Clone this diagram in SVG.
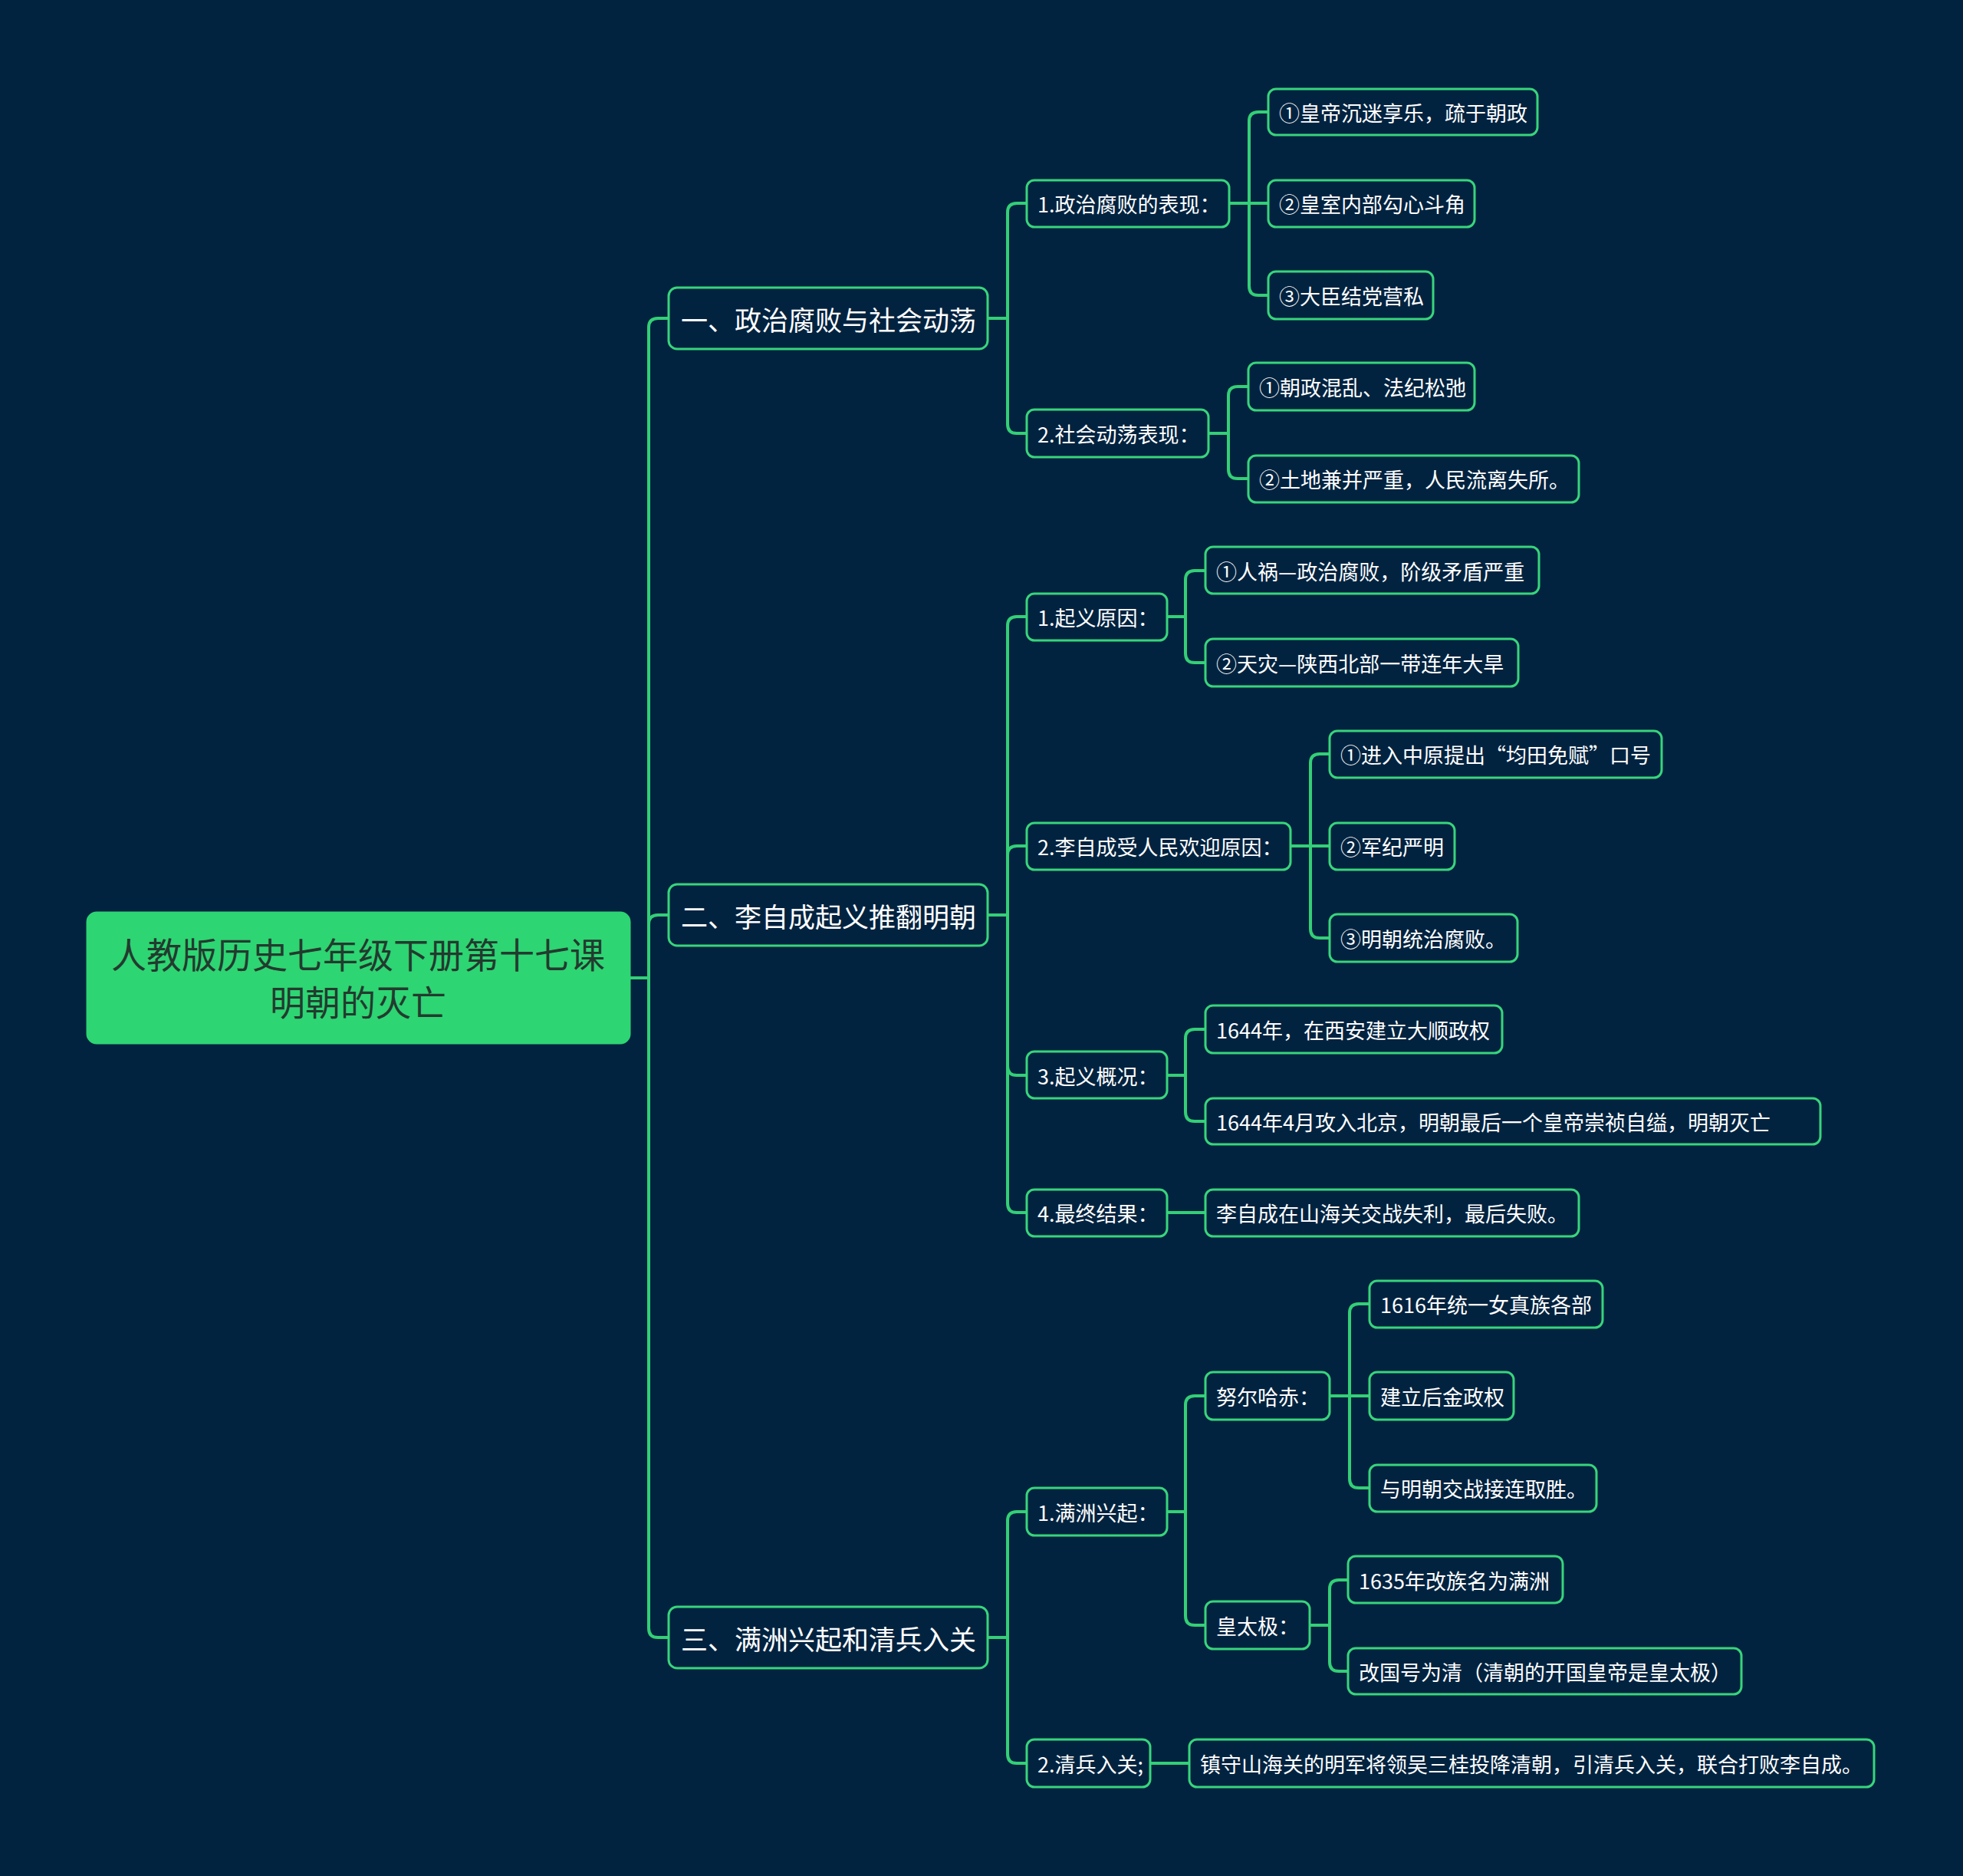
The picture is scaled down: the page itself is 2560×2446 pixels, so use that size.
<svg xmlns="http://www.w3.org/2000/svg" width="2560" height="2446" viewBox="0 0 2560 2446">
<style>
.bg{fill:#022340}
.c{fill:none;stroke:#34cf76;stroke-width:4;stroke-linecap:round}
.n rect{fill:#022340;stroke:#38d57b;stroke-width:3}
.n text{fill:#ffffff;font-family:"Noto Sans CJK SC","Noto Sans",sans-serif;font-size:27px;dominant-baseline:central}
.l1 text{font-size:35px}
.root rect{fill:#2ed573;stroke:#2ed573}
.root text{fill:#233a2e;font-size:46px;text-anchor:middle}
</style>
<rect class="bg" x="0" y="0" width="2560" height="2446"/>
<g id="connectors">
<path class="c" d="M821 1275 H846 V427 Q846 415 858 415 H872"/>
<path class="c" d="M821 1275 H846 V1205 Q846 1193 858 1193 H872"/>
<path class="c" d="M821 1275 H846 V2123 Q846 2135 858 2135 H872"/>
<path class="c" d="M1288 415 H1314 V277 Q1314 265 1326 265 H1339"/>
<path class="c" d="M1288 415 H1314 V553 Q1314 565 1326 565 H1339"/>
<path class="c" d="M1288 1193 H1314 V816 Q1314 804 1326 804 H1339"/>
<path class="c" d="M1288 1193 H1314 V1115 Q1314 1103 1326 1103 H1339"/>
<path class="c" d="M1288 1193 H1314 V1390 Q1314 1402 1326 1402 H1339"/>
<path class="c" d="M1288 1193 H1314 V1569 Q1314 1581 1326 1581 H1339"/>
<path class="c" d="M1288 2135 H1314 V1983 Q1314 1971 1326 1971 H1339"/>
<path class="c" d="M1288 2135 H1314 V2287 Q1314 2299 1326 2299 H1339"/>
<path class="c" d="M1603 265 H1629 V158 Q1629 146 1641 146 H1654"/>
<path class="c" d="M1603 265 H1654"/>
<path class="c" d="M1603 265 H1629 V373 Q1629 385 1641 385 H1654"/>
<path class="c" d="M1576 565 H1602 V516 Q1602 504 1614 504 H1628"/>
<path class="c" d="M1576 565 H1602 V612 Q1602 624 1614 624 H1628"/>
<path class="c" d="M1522 804 H1546 V756 Q1546 744 1558 744 H1572"/>
<path class="c" d="M1522 804 H1546 V852 Q1546 864 1558 864 H1572"/>
<path class="c" d="M1683 1103 H1709 V995 Q1709 983 1721 983 H1734"/>
<path class="c" d="M1683 1103 H1734"/>
<path class="c" d="M1683 1103 H1709 V1211 Q1709 1223 1721 1223 H1734"/>
<path class="c" d="M1522 1402 H1546 V1354 Q1546 1342 1558 1342 H1572"/>
<path class="c" d="M1522 1402 H1546 V1450 Q1546 1462 1558 1462 H1572"/>
<path class="c" d="M1522 1581 H1572"/>
<path class="c" d="M1522 1971 H1546 V1832 Q1546 1820 1558 1820 H1572"/>
<path class="c" d="M1522 1971 H1546 V2107 Q1546 2119 1558 2119 H1572"/>
<path class="c" d="M1734 1820 H1760 V1712 Q1760 1700 1772 1700 H1786"/>
<path class="c" d="M1734 1820 H1786"/>
<path class="c" d="M1734 1820 H1760 V1928 Q1760 1940 1772 1940 H1786"/>
<path class="c" d="M1708 2119 H1734 V2072 Q1734 2060 1746 2060 H1758"/>
<path class="c" d="M1708 2119 H1734 V2167 Q1734 2179 1746 2179 H1758"/>
<path class="c" d="M1500 2299 H1551"/>
</g>
<g id="root" class="n root"><rect x="114" y="1190" width="707" height="170" rx="12"/><text x="467" y="1242">人教版历史七年级下册第十七课</text><text x="467" y="1304">明朝的灭亡</text></g>
<g id="n1" class="n l1"><rect x="872" y="375" width="416" height="80" rx="11"/><text x="888" y="415">一、政治腐败与社会动荡</text></g>
<g id="n2" class="n l1"><rect x="872" y="1153" width="416" height="80" rx="11"/><text x="888" y="1193">二、李自成起义推翻明朝</text></g>
<g id="n3" class="n l1"><rect x="872" y="2095" width="416" height="80" rx="11"/><text x="888" y="2135">三、满洲兴起和清兵入关</text></g>
<g id="n1_1" class="n"><rect x="1339" y="235" width="264" height="61" rx="10"/><text x="1353" y="265">1.政治腐败的表现：</text></g>
<g id="n1_2" class="n"><rect x="1339" y="534" width="237" height="62" rx="10"/><text x="1353" y="565">2.社会动荡表现：</text></g>
<g id="n2_1" class="n"><rect x="1339" y="774" width="183" height="61" rx="10"/><text x="1353" y="804">1.起义原因：</text></g>
<g id="n2_2" class="n"><rect x="1339" y="1073" width="344" height="61" rx="10"/><text x="1353" y="1103">2.李自成受人民欢迎原因：</text></g>
<g id="n2_3" class="n"><rect x="1339" y="1371" width="183" height="61" rx="10"/><text x="1353" y="1402">3.起义概况：</text></g>
<g id="n2_4" class="n"><rect x="1339" y="1551" width="183" height="61" rx="10"/><text x="1353" y="1581">4.最终结果：</text></g>
<g id="n3_1" class="n"><rect x="1339" y="1940" width="183" height="62" rx="10"/><text x="1353" y="1971">1.满洲兴起：</text></g>
<g id="n3_2" class="n"><rect x="1339" y="2268" width="161" height="62" rx="10"/><text x="1353" y="2299">2.清兵入关;</text></g>
<g id="n1_1_1" class="n"><rect x="1654" y="116" width="351" height="60" rx="10"/><text x="1668" y="146">①皇帝沉迷享乐，疏于朝政</text></g>
<g id="n1_1_2" class="n"><rect x="1654" y="235" width="269" height="61" rx="10"/><text x="1668" y="265">②皇室内部勾心斗角</text></g>
<g id="n1_1_3" class="n"><rect x="1654" y="354" width="215" height="62" rx="10"/><text x="1668" y="385">③大臣结党营私</text></g>
<g id="n1_2_1" class="n"><rect x="1628" y="473" width="295" height="62" rx="10"/><text x="1642" y="504">①朝政混乱、法纪松弛</text></g>
<g id="n1_2_2" class="n"><rect x="1628" y="594" width="431" height="61" rx="10"/><text x="1642" y="624">②土地兼并严重，人民流离失所。</text></g>
<g id="n2_1_1" class="n"><rect x="1572" y="713" width="435" height="61" rx="10"/><text x="1586" y="744">①人祸—政治腐败，阶级矛盾严重</text></g>
<g id="n2_1_2" class="n"><rect x="1572" y="833" width="408" height="62" rx="10"/><text x="1586" y="864">②天灾—陕西北部一带连年大旱</text></g>
<g id="n2_2_1" class="n"><rect x="1734" y="953" width="433" height="61" rx="10"/><text x="1748" y="983">①进入中原提出“均田免赋”口号</text></g>
<g id="n2_2_2" class="n"><rect x="1734" y="1073" width="163" height="61" rx="10"/><text x="1748" y="1103">②军纪严明</text></g>
<g id="n2_2_3" class="n"><rect x="1734" y="1192" width="245" height="62" rx="10"/><text x="1748" y="1223">③明朝统治腐败。</text></g>
<g id="n2_3_1" class="n"><rect x="1572" y="1311" width="387" height="62" rx="10"/><text x="1586" y="1342">1644年，在西安建立大顺政权</text></g>
<g id="n2_3_2" class="n"><rect x="1572" y="1432" width="802" height="60" rx="10"/><text x="1586" y="1462">1644年4月攻入北京，明朝最后一个皇帝崇祯自缢，明朝灭亡</text></g>
<g id="n2_4_1" class="n"><rect x="1572" y="1551" width="487" height="61" rx="10"/><text x="1586" y="1581">李自成在山海关交战失利，最后失败。</text></g>
<g id="n3_1_1" class="n"><rect x="1572" y="1789" width="162" height="62" rx="10"/><text x="1586" y="1820">努尔哈赤：</text></g>
<g id="n3_1_2" class="n"><rect x="1572" y="2088" width="136" height="62" rx="10"/><text x="1586" y="2119">皇太极：</text></g>
<g id="n3_1_1_1" class="n"><rect x="1786" y="1670" width="304" height="61" rx="10"/><text x="1800" y="1700">1616年统一女真族各部</text></g>
<g id="n3_1_1_2" class="n"><rect x="1786" y="1789" width="188" height="62" rx="10"/><text x="1800" y="1820">建立后金政权</text></g>
<g id="n3_1_1_3" class="n"><rect x="1786" y="1910" width="296" height="61" rx="10"/><text x="1800" y="1940">与明朝交战接连取胜。</text></g>
<g id="n3_1_2_1" class="n"><rect x="1758" y="2029" width="280" height="61" rx="10"/><text x="1772" y="2060">1635年改族名为满洲</text></g>
<g id="n3_1_2_2" class="n"><rect x="1758" y="2149" width="513" height="60" rx="10"/><text x="1772" y="2179">改国号为清（清朝的开国皇帝是皇太极）</text></g>
<g id="n3_2_1" class="n"><rect x="1551" y="2268" width="893" height="62" rx="10"/><text x="1565" y="2299">镇守山海关的明军将领吴三桂投降清朝，引清兵入关，联合打败李自成。</text></g>
</svg>
